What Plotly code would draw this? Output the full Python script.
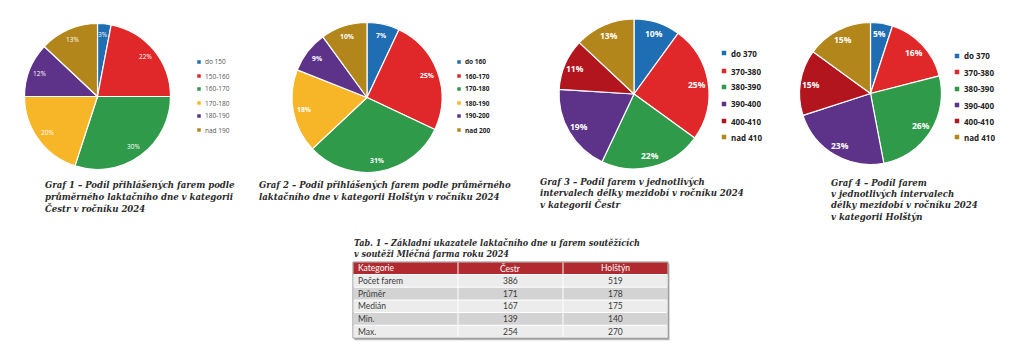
import math
import plotly.graph_objects as go

# page body has an 8px margin in the browser; figure is sized to fit inside it
OFF = 8
W, H = 1024 - 2 * OFF, 361 - 2 * OFF

# ---------------- data ----------------
labels_g1 = ["do 150", "150-160", "160-170", "170-180", "180-190", "nad 190"]
values_g1 = [3, 22, 30, 20, 12, 13]

labels_g2 = ["do 160", "160-170", "170-180", "180-190", "190-200", "nad 200"]
values_g2 = [7, 25, 31, 18, 9, 10]

labels_g3 = ["do 370", "370-380", "380-390", "390-400", "400-410", "nad 410"]
values_g3 = [10, 25, 22, 19, 11, 13]

labels_g4 = ["do 370", "370-380", "380-390", "390-400", "400-410", "nad 410"]
values_g4 = [5, 16, 26, 23, 15, 15]

captions = [
    ["Graf 1 – Podíl přihlášených farem podle", "průměrného laktačního dne v kategorii", "Čestr v ročníku 2024"],
    ["Graf 2 – Podíl přihlášených farem podle průměrného", "laktačního dne v kategorii Holštýn v ročníku 2024"],
    ["Graf 3 – Podíl farem v jednotlivých", "intervalech délky mezidobí v ročníku 2024", "v kategorii Čestr"],
    ["Graf 4 – Podíl farem", "v jednotlivých intervalech", "délky mezidobí v ročníku 2024", "v kategorii Holštýn"],
]

table_title = ["Tab. 1 – Základní ukazatele laktačního dne u farem soutěžících",
               "v soutěži Mléčná farma roku 2024"]
table_header = ["Kategorie", "Čestr", "Holštýn"]
table_rows = ["Počet farem", "Průměr", "Medián", "Min.", "Max."]
table_cestr = [386, 171, 167, 139, 254]
table_holstyn = [519, 178, 175, 140, 270]

# ---------------- styles ----------------
cols_a = ["#1f6db3", "#e0272a", "#2f9a49", "#f7b628", "#5c3389", "#b3861b"]
cols_b = ["#1f6db3", "#e0272a", "#2f9a49", "#5c3389", "#b3151f", "#b3861b"]


def px(x):
    return (x - OFF) / W


def py(y):
    return 1 - (y - OFF) / H


def dom(cx, cy, r):
    return dict(x=[px(cx - r), px(cx + r)], y=[py(cy + r), py(cy - r)])


pies = [
    dict(labels=labels_g1, values=values_g1, colors=cols_a, c=(97.5, 96.5, 73),
         tfont=dict(size=6.5, color="white", family="Open Sans"),
         leg=dict(mx=199, tx=203, ys=[62, 76, 89, 103, 116, 130], size=6.5, ms=3.5,
                  color="#555555", weight="normal")),
    dict(labels=labels_g2, values=values_g2, colors=cols_a, c=(367, 97.5, 75),
         tfont=dict(size=6.8, color="white", family="Open Sans", weight="bold"),
         leg=dict(mx=459, tx=463, ys=[62, 76, 89, 103, 116, 130], size=6.5, ms=3.5,
                  color="#222222", weight="bold")),
    dict(labels=labels_g3, values=values_g3, colors=cols_b, c=(634, 94, 75),
         tfont=dict(size=8.5, color="white", family="Open Sans", weight="bold"),
         leg=dict(mx=724, tx=729, ys=[53, 71, 87, 104, 121, 137], size=8, ms=4.5,
                  color="#222222", weight="bold")),
    dict(labels=labels_g4, values=values_g4, colors=cols_b, c=(870.5, 93.5, 71),
         tfont=dict(size=8.5, color="white", family="Open Sans", weight="bold"),
         leg=dict(mx=957, tx=962, ys=[56, 72, 89, 105, 121, 137], size=8, ms=4.5,
                  color="#222222", weight="bold")),
]
LABEL_R = 0.85  # data labels sit near the outer edge, as in the original

cap_pos = [
    (43, [184, 196, 208]),
    (257, [184, 196]),
    (538, [181, 192.5, 204]),
    (829, [182, 193, 204.5, 216]),
]

fig = go.Figure()
annotations = []
shapes = []


def ann(text, x, y, font, xanchor="left"):
    annotations.append(dict(text=text, x=px(x), y=py(y), xref="paper", yref="paper",
                            xanchor=xanchor, yanchor="middle", showarrow=False, font=font))


for p in pies:
    cx, cy, r = p["c"]
    fig.add_trace(go.Pie(
        labels=p["labels"], values=p["values"], sort=False, direction="clockwise",
        rotation=0, domain=dom(cx, cy, r),
        marker=dict(colors=p["colors"], line=dict(color="white", width=1.2)),
        textinfo="none", hoverinfo="label+value", showlegend=False,
    ))
    # percentage labels placed along each slice's mid-angle
    total = sum(p["values"])
    cum = 0
    for v in p["values"]:
        mid = (cum + v / 2) / total * 2 * math.pi
        cum += v
        lx = cx + LABEL_R * r * math.sin(mid)
        ly = cy - LABEL_R * r * math.cos(mid)
        ann(f"{v}%", lx, ly, p["tfont"], "center")
    lg = p["leg"]
    for lab, col, y in zip(p["labels"], p["colors"], lg["ys"]):
        h = lg["ms"] / 2
        shapes.append(dict(type="rect", xref="paper", yref="paper",
                           x0=px(lg["mx"] - h), x1=px(lg["mx"] + h),
                           y0=py(y + h), y1=py(y - h),
                           fillcolor=col, line=dict(width=0)))
        ann(lab, lg["tx"], y, dict(family="Open Sans", size=lg["size"], color=lg["color"],
                                   weight=lg["weight"]))

cap_font = dict(family="DejaVu Serif Condensed, DejaVu Serif", size=9.5, color="#2a2a2a",
                style="italic", weight="bold")
for lines, (x0, ys) in zip(captions, cap_pos):
    for line, y in zip(lines, ys):
        ann(line, x0, y, cap_font)

for line, y in zip(table_title, [243, 254]):
    ann(line, 352, y, dict(family="DejaVu Serif Condensed, DejaVu Serif", size=9, color="#2a2a2a",
                           style="italic", weight="bold"))

# ---------------- table ----------------
col_x = [353, 458, 563, 668]
head_y = (262, 274.5)
row_h = 12.7
row_fill = ["#ececec", "#d3d3d3"]
tfont = dict(family="Liberation Sans Narrow, Lato", size=8.5, color="#3a3a3a")
hfont = dict(family="Liberation Sans Narrow, Lato", size=8.5, color="white")

# shadow + outer frame
shapes.append(dict(type="rect", xref="paper", yref="paper",
                   x0=px(col_x[0] + 1.5), x1=px(col_x[-1] + 1.5),
                   y0=py(head_y[0] + 6 * row_h + 1.5 + 0.5), y1=py(head_y[0] + 1.5),
                   fillcolor="#b5b5b5", line=dict(width=0)))
shapes.append(dict(type="rect", xref="paper", yref="paper",
                   x0=px(col_x[0]), x1=px(col_x[-1]),
                   y0=py(head_y[1] + 5 * row_h), y1=py(head_y[0]),
                   fillcolor="white", line=dict(color="#8a8a8a", width=1)))

columns = [table_rows, table_cestr, table_holstyn]
for ci in range(3):
    x0, x1 = col_x[ci], col_x[ci + 1]
    shapes.append(dict(type="rect", xref="paper", yref="paper",
                       x0=px(x0 + 0.5), x1=px(x1 - 0.5), y0=py(head_y[1] - 0.5), y1=py(head_y[0] + 0.5),
                       fillcolor="#b02a30", line=dict(width=0)))
    if ci == 0:
        ann(table_header[ci], x0 + 3, (head_y[0] + head_y[1]) / 2, hfont)
    else:
        ann(table_header[ci], (x0 + x1) / 2, (head_y[0] + head_y[1]) / 2, hfont, "center")
    for ri, val in enumerate(columns[ci]):
        y0 = head_y[1] + ri * row_h
        y1 = y0 + row_h
        shapes.append(dict(type="rect", xref="paper", yref="paper",
                           x0=px(x0 + 0.5), x1=px(x1 - 0.5), y0=py(y1 - 0.5), y1=py(y0 + 0.5),
                           fillcolor=row_fill[ri % 2], line=dict(width=0)))
        if ci == 0:
            ann(str(val), x0 + 3, (y0 + y1) / 2, tfont)
        else:
            ann(str(val), (x0 + x1) / 2, (y0 + y1) / 2, tfont, "center")

fig.update_layout(
    width=W, height=H, margin=dict(l=0, r=0, t=0, b=0),
    paper_bgcolor="white", plot_bgcolor="white",
    annotations=annotations, shapes=shapes, showlegend=False,
)

fig.write_html("out.html")
